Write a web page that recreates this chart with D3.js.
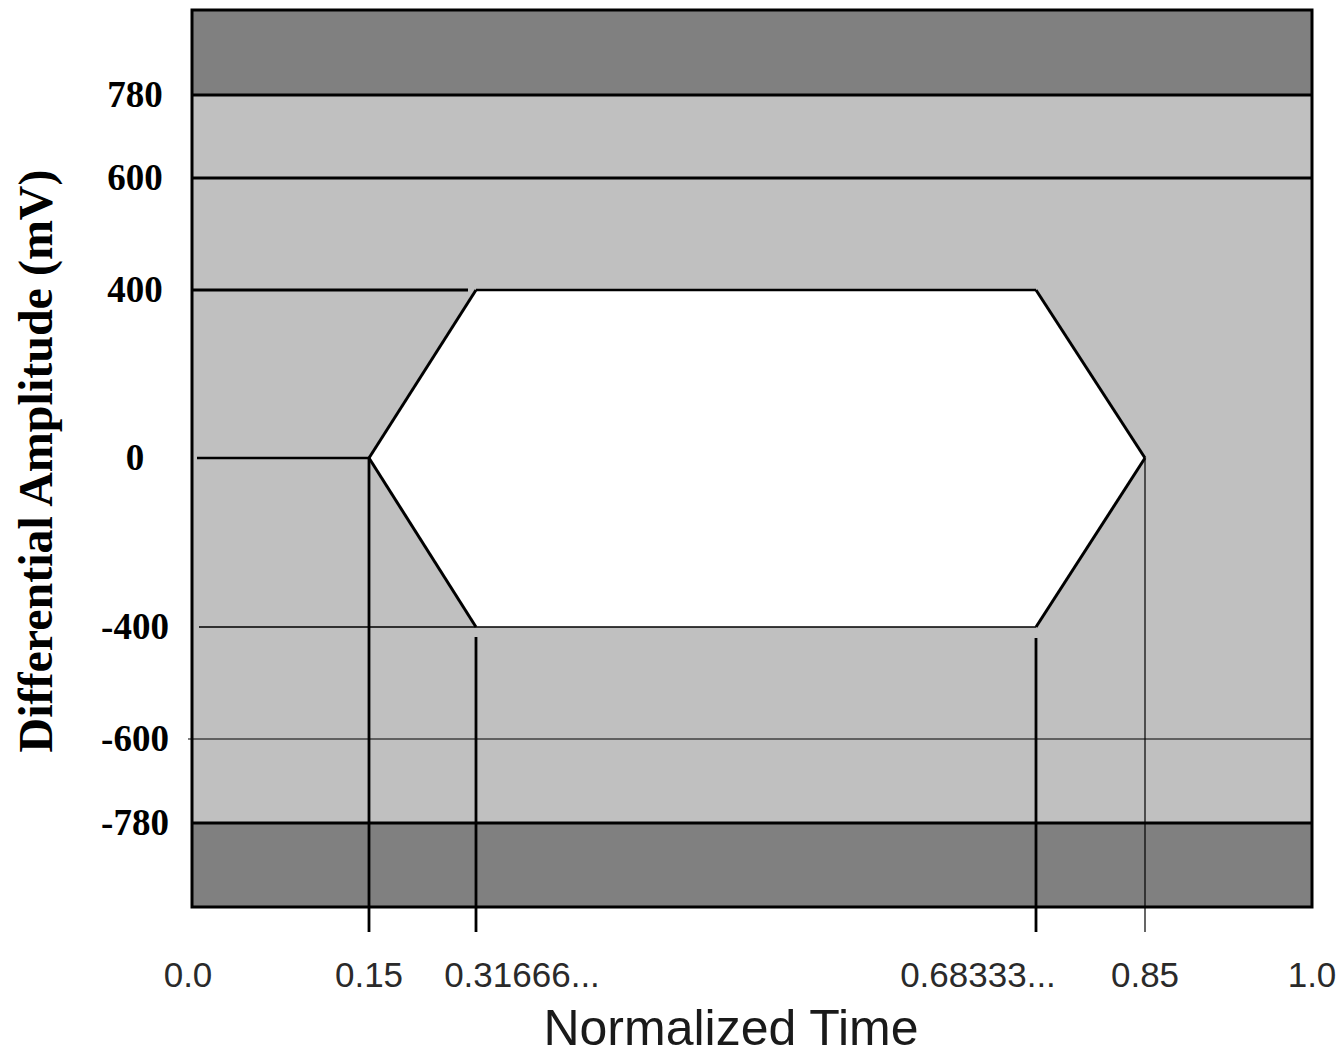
<!DOCTYPE html>
<html>
<head>
<meta charset="utf-8">
<script src="https://cdn.jsdelivr.net/npm/d3@7"></script>
<style>
  html, body { margin: 0; padding: 0; background: #fff; }
  svg { display: block; }
</style>
</head>
<body>
<svg id="chart" width="1342" height="1055"></svg>
<script>
// Normalized time breakpoints and their axis labels
const timeTicks = [0, 0.15, 0.31666, 0.68333, 0.85, 1.0];
const timeLabels = ["0.0", "0.15", "0.31666...", "0.68333...", "0.85", "1.0"];

// Differential amplitude ticks (mV)
const ampTicks = [780, 600, 400, 0, -400, -600, -780];
const ampLabels = ["780", "600", "400", "0", "-400", "-600", "-780"];

// Plot extent beyond the ±780 mV limits
const ampExtent = [-960, 960];

// Absolute amplitude limits (forbidden outside)
const ampLimits = [-780, 780];

// Receiver eye mask vertices (time, amplitude)
const maskTime = [0.15, 0.31666, 0.68333, 0.85, 0.68333, 0.31666];
const maskAmp  = [0, 400, 400, 0, -400, -400];

const svg = d3.select("#chart");

// Non-uniform axes: each breakpoint gets its own position along the axis
const x = d3.scaleLinear()
  .domain(timeTicks)
  .range([192, 369, 476, 1036, 1145, 1312]);

const y = d3.scaleLinear()
  .domain([ampExtent[0], -780, -600, -400, 0, 400, 600, 780, ampExtent[1]])
  .range([907, 823, 739, 627, 458, 290, 178, 95, 10]);

const x0 = x(0), x1 = x(1);
const yTop = y(ampExtent[1]), yBot = y(ampExtent[0]);

// Dark forbidden bands above and below the limits
svg.append("rect")
  .attr("x", x0).attr("y", yTop)
  .attr("width", x1 - x0).attr("height", yBot - yTop)
  .attr("fill", "#808080");

// Allowed region between the limits
svg.append("rect")
  .attr("x", x0).attr("y", y(ampLimits[1]))
  .attr("width", x1 - x0).attr("height", y(ampLimits[0]) - y(ampLimits[1]))
  .attr("fill", "#c0c0c0");

// Eye opening (mask)
const maskPts = maskTime.map((t, i) => [x(t), y(maskAmp[i])]);
svg.append("polygon")
  .attr("points", maskPts.map(p => p.join(",")).join(" "))
  .attr("fill", "#ffffff");

const line = (xa, ya, xb, yb, w) => svg.append("line")
  .attr("x1", xa).attr("y1", ya).attr("x2", xb).attr("y2", yb)
  .attr("stroke", "#000").attr("stroke-width", w);

// Horizontal reference lines
line(x0, y(780), x1, y(780), 3);
line(x0, y(600), x1, y(600), 3);
line(x0, y(-780), x1, y(-780), 3);
line(x0 - 4, y(-600), x1, y(-600), 1.2);
line(x0, y(400), x(0.31666) - 8, y(400), 2.8);
line(x0 + 5, y(0), x(0.15), y(0), 2.6);
line(x0 + 7, y(-400), x(0.31666), y(-400), 1.5);

// Mask outline: thick top and diagonals, thin bottom
line(x(0.31666), y(400), x(0.68333), y(400), 2.6);
line(x(0.15), y(0), x(0.31666), y(400), 3);
line(x(0.68333), y(400), x(0.85), y(0), 3);
line(x(0.15), y(0), x(0.31666), y(-400), 3);
line(x(0.68333), y(-400), x(0.85), y(0), 3);
line(x(0.31666), y(-400), x(0.68333), y(-400), 1.5);

// Vertical drop lines down to the time axis
const dropEnd = yBot + 25;
line(x(0.15), y(0), x(0.15), dropEnd, 2.8);
line(x(0.31666), y(-400) + 10, x(0.31666), dropEnd, 2.8);
line(x(0.68333), y(-400) + 11, x(0.68333), dropEnd, 2.8);
line(x(0.85), y(0), x(0.85), dropEnd, 1.2);

// Plot frame
svg.append("rect")
  .attr("x", x0).attr("y", yTop)
  .attr("width", x1 - x0).attr("height", yBot - yTop)
  .attr("fill", "none").attr("stroke", "#000").attr("stroke-width", 3);

// Amplitude labels
svg.append("g").selectAll("text")
  .data(ampTicks)
  .join("text")
  .attr("x", 135)
  .attr("y", d => y(d) + 12)
  .attr("text-anchor", "middle")
  .attr("font-family", "'Liberation Serif', 'Times New Roman', serif")
  .attr("font-weight", "bold")
  .attr("font-size", 37)
  .text((d, i) => ampLabels[i]);

// Time labels; the two long labels are pulled in toward the centre
const labelShift = d => d > 0.2 && d < 0.5 ? 46 : d > 0.5 && d < 0.8 ? -58 : d === 0 ? -4 : 0;
svg.append("g").selectAll("text")
  .data(timeTicks)
  .join("text")
  .attr("x", d => x(d) + labelShift(d))
  .attr("y", 987)
  .attr("text-anchor", "middle")
  .attr("font-family", "'Liberation Sans', Arial, sans-serif")
  .attr("font-size", 35)
  .attr("fill", "#2a2a2a")
  .text((d, i) => timeLabels[i]);

// Axis titles
svg.append("text")
  .attr("x", 731).attr("y", 1045)
  .attr("text-anchor", "middle")
  .attr("font-family", "'Liberation Sans', Arial, sans-serif")
  .attr("font-size", 50)
  .attr("fill", "#1a1a1a")
  .text("Normalized Time");

svg.append("text")
  .attr("transform", "translate(52,461) rotate(-90)")
  .attr("text-anchor", "middle")
  .attr("font-family", "'Liberation Serif', 'Times New Roman', serif")
  .attr("font-weight", "bold")
  .attr("font-size", 48)
  .text("Differential Amplitude (mV)");
</script>
</body>
</html>
